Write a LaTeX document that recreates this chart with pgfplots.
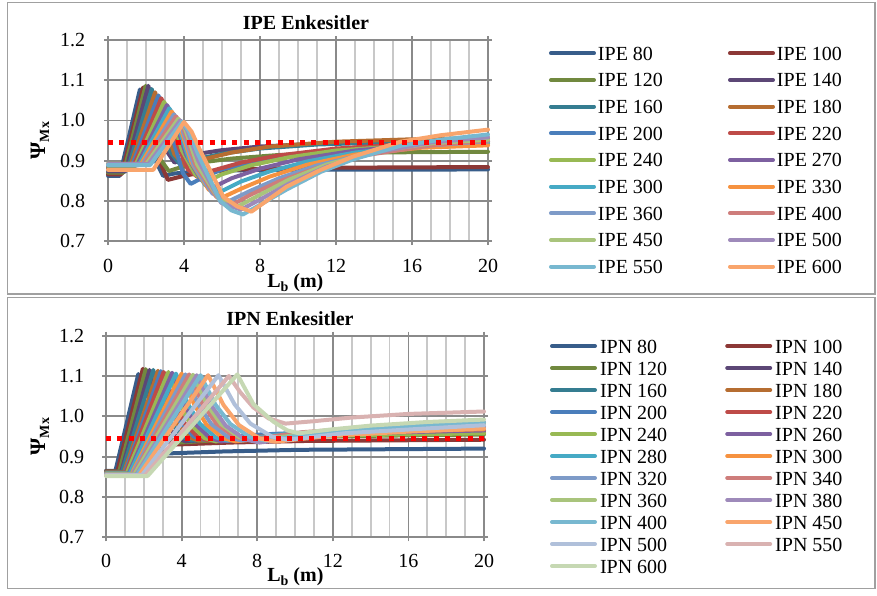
\documentclass[border=0pt]{standalone}
\usepackage{fontspec}
\setmainfont{Liberation Serif}
\usepackage{pgfplots}
\pgfplotsset{compat=1.18}
\definecolor{gmaj}{HTML}{8A8A8A}
\definecolor{gmin}{HTML}{C8C8C8}
\definecolor{frame}{HTML}{A0A0A0}
\definecolor{c1}{HTML}{385D8A}
\definecolor{c2}{HTML}{8C3836}
\definecolor{c3}{HTML}{71893F}
\definecolor{c4}{HTML}{5C4776}
\definecolor{c5}{HTML}{357D91}
\definecolor{c6}{HTML}{B66D31}
\definecolor{c7}{HTML}{4A7EBB}
\definecolor{c8}{HTML}{BE4B48}
\definecolor{c9}{HTML}{98B954}
\definecolor{c10}{HTML}{7D60A0}
\definecolor{c11}{HTML}{46AAC5}
\definecolor{c12}{HTML}{F69240}
\definecolor{c13}{HTML}{7E9BC8}
\definecolor{c14}{HTML}{CE7D7B}
\definecolor{c15}{HTML}{A9C47C}
\definecolor{c16}{HTML}{9E8ABA}
\definecolor{c17}{HTML}{78B8D0}
\definecolor{c18}{HTML}{F9A56C}
\definecolor{c19}{HTML}{B0C0DA}
\definecolor{c20}{HTML}{D9B2B1}
\definecolor{c21}{HTML}{C6D8B3}
\pgfplotsset{
  myax/.style={
    scale only axis, clip=false,
    xmin=0, xmax=20, ymin=0.7, ymax=1.2,
    xtick={0,4,8,12,16,20}, xticklabels={0,4,8,12,16,20},
    minor xtick={1,2,3,5,6,7,9,10,11,13,14,15,17,18,19},
    ytick={0.7,0.8,0.9,1.0,1.1,1.2}, yticklabels={0.7,0.8,0.9,1.0,1.1,1.2},
    grid=both,
    major grid style={draw=gmaj, line width=1.8pt},
    minor grid style={draw=gmin, line width=1.8pt},
    axis line style={draw=gmaj, line width=1.8pt},
    tick style={draw=gmaj, line width=1.8pt},
    tick align=outside, major tick length=4pt, minor tick length=0pt,
    font=\fontsize{20}{24}\selectfont,
    yticklabel style={anchor=east, inner sep=0pt},
    title style={font=\fontsize{20}{24}\selectfont\bfseries, anchor=center, inner sep=0pt},
    every axis plot/.append style={line width=4pt, line join=round, line cap=round, mark=none},
    legend columns=2,
    legend cell align=left,
    legend style={draw=none, fill=none, inner sep=0pt, outer sep=0pt, anchor=north west,
      nodes={inner sep=0pt, text height=14pt, text depth=0pt},
      font=\fontsize{20}{24}\selectfont},
    legend image code/.code={\path (0pt,0pt) -- (43pt,0pt); \draw[#1, line width=3.8pt, line cap=round] (1.9pt,0pt) -- (41.1pt,0pt);},
    ylabel={\bfseries{\fontsize{22}{22}\selectfont Ψ}\raisebox{-4pt}{\fontsize{14}{14}\selectfont Mx}},
    xlabel={\bfseries L\raisebox{-4pt}{\fontsize{14}{14}\selectfont b} (m)},
    redline/.style={forget plot, color=red, line width=5pt, line cap=butt, dash pattern=on 5pt off 6.3pt},
  }
}
\begin{document}
\begin{tikzpicture}[x=1pt,y=1pt]
\useasboundingbox (0,0) rectangle (877,595);
\draw[frame, line width=1.5pt] (7.5,301) rectangle (875,592.5);
\draw[frame, line width=1.5pt] (7.5,6.7) rectangle (875,297.7);
\begin{axis}[myax, at={(108pt,354pt)}, anchor=south west, width=380pt, height=201pt,
  title={IPE Enkesitler}, title style={at={(axis description cs:0.5,1)}, yshift=11pt, xshift=8pt},
  xticklabel style={anchor=base, yshift=-27pt, inner sep=0pt},
  yticklabel style={xshift=-18.7pt},
  ylabel style={at={(axis description cs:-0.179,0.5)}, anchor=center},
  xlabel style={at={(axis description cs:0.493,-0.229)}, anchor=base},
  legend style={at={(axis description cs:1.1605,0.9687)}, row sep=12.67pt,
    /tikz/every odd column/.append style={column sep=2pt},
    /tikz/every even column/.append style={column sep=65pt}},
  legend entries={IPE 80,IPE 100,IPE 120,IPE 140,IPE 160,IPE 180,IPE 200,IPE 220,IPE 240,IPE 270,IPE 300,IPE 330,IPE 360,IPE 400,IPE 450,IPE 500,IPE 550,IPE 600},
]
\addplot[c1] coordinates {(0,.862) (.62,.862) (1.68,1.077) (2.0,1.0) (2.5,.9) (2.9,.862) (3.5,.868) (5,.874) (8,.877) (20,.878)};
\addplot[c2] coordinates {(0,.866) (.72,.866) (1.85,1.082) (2.2,1.0) (2.7,.9) (3.15,.852) (4,.862) (5,.871) (7,.878) (10,.882) (20,.884)};
\addplot[c3] coordinates {(0,.87) (.82,.87) (1.98,1.086) (2.35,1.0) (2.8,.9) (3.2,.874) (4,.886) (5,.896) (6.5,.905) (9,.914) (13,.92) (20,.922)};
\addplot[c4] coordinates {(0,.873) (.92,.873) (2.12,1.086) (2.5,1.02) (3.0,.93) (3.5,.895) (4.5,.915) (6,.926) (8,.935) (11,.942) (15,.946) (20,.948)};
\addplot[c5] coordinates {(0,.876) (1.02,.876) (2.3,1.078) (2.7,1.01) (3.3,.92) (3.8,.89) (4.8,.905) (6,.917) (8,.93) (11,.94) (15,.946) (20,.95)};
\addplot[c6] coordinates {(0,.879) (1.12,.879) (2.48,1.07) (2.9,1.0) (3.5,.915) (4.05,.888) (5,.903) (6.5,.92) (8.5,.935) (12,.947) (16,.953) (20,.956)};
\addplot[c7] coordinates {(0,.882) (1.22,.882) (2.65,1.062) (3.0,1.03) (3.5,.94) (3.95,.868) (4.35,.842) (5,.858) (6,.878) (8,.9) (11,.92) (15,.935) (20,.942)};
\addplot[c8] coordinates {(0,.884) (1.32,.884) (2.8,1.055) (3.15,1.025) (3.7,.935) (4.2,.878) (4.7,.86) (5.5,.875) (7,.895) (9,.913) (12,.93) (16,.942) (20,.948)};
\addplot[c9] coordinates {(0,.886) (1.42,.886) (2.95,1.046) (3.3,1.018) (3.9,.925) (4.6,.865) (5.2,.848) (6,.866) (7.5,.888) (9.5,.908) (12,.925) (16,.938) (20,.943)};
\addplot[c10] coordinates {(0,.888) (1.52,.888) (3.1,1.038) (3.45,1.012) (4.1,.915) (4.9,.852) (5.6,.835) (6.5,.856) (8,.88) (10,.903) (13,.925) (16.5,.94) (20,.948)};
\addplot[c11] coordinates {(0,.889) (1.62,.889) (3.22,1.03) (3.57,1.005) (4.25,.905) (5.1,.84) (5.9,.822) (7,.848) (8.5,.873) (10.5,.898) (13,.92) (16.5,.937) (20,.945)};
\addplot[c12] coordinates {(0,.89) (1.72,.89) (3.35,1.022) (3.7,.998) (4.4,.895) (5.3,.828) (6.1,.81) (7,.83) (8.5,.86) (10.5,.89) (13,.915) (16.5,.932) (20,.938)};
\addplot[c13] coordinates {(0,.891) (1.82,.891) (3.47,1.015) (3.82,.99) (4.5,.89) (5.5,.818) (6.4,.8) (7.5,.825) (9,.856) (11,.888) (13.5,.916) (17,.938) (20,.948)};
\addplot[c14] coordinates {(0,.892) (1.92,.892) (3.58,1.01) (3.93,.986) (4.6,.89) (5.7,.81) (6.6,.792) (7.5,.815) (9,.848) (11,.882) (13.5,.913) (17,.938) (20,.95)};
\addplot[c15] coordinates {(0,.892) (2.02,.892) (3.7,1.004) (4.05,.98) (4.7,.89) (5.85,.803) (6.8,.785) (8,.815) (9.5,.852) (11.5,.89) (14,.922) (17,.943) (20,.952)};
\addplot[c16] coordinates {(0,.891) (2.12,.891) (3.8,1.0) (4.15,.977) (4.75,.9) (5.95,.795) (7.0,.778) (8,.803) (9.5,.842) (11.5,.885) (14,.92) (17,.945) (20,.958)};
\addplot[c17] coordinates {(0,.889) (2.22,.889) (3.9,.997) (4.25,.974) (4.75,.915) (5.9,.8) (6.5,.776) (7.1,.766) (8,.79) (9.4,.828) (11.2,.872) (12.9,.903) (15.4,.937) (17.5,.952) (20,.965)};
\addplot[c18] coordinates {(0,.877) (2.38,.877) (4.0,.996) (4.4,.972) (4.84,.926) (6.07,.81) (6.8,.786) (7.55,.773) (8.5,.805) (9.4,.835) (11.2,.877) (12.9,.91) (15.4,.947) (17.5,.963) (20,.977)};
\addplot[redline] coordinates {(0,0.9445) (20,0.9445)};
\end{axis}
\begin{axis}[myax, at={(106pt,57.7pt)}, anchor=south west, width=378pt, height=201.6pt,
  title={IPN Enkesitler}, title style={at={(axis description cs:0.5,1)}, yshift=11pt, xshift=-5pt},
  xticklabel style={anchor=base, yshift=-26pt, inner sep=0pt},
  yticklabel style={xshift=-17.7pt},
  ylabel style={at={(axis description cs:-0.175,0.5)}, anchor=center},
  xlabel style={at={(axis description cs:0.501,-0.220)}, anchor=base},
  legend style={at={(axis description cs:1.1746,0.9836)}, row sep=8pt,
    /tikz/every odd column/.append style={column sep=3pt},
    /tikz/every even column/.append style={column sep=58pt}},
  legend entries={IPN 80,IPN 100,IPN 120,IPN 140,IPN 160,IPN 180,IPN 200,IPN 220,IPN 240,IPN 260,IPN 280,IPN 300,IPN 320,IPN 340,IPN 360,IPN 380,IPN 400,IPN 450,IPN 500,IPN 550,IPN 600},
]
\addplot[c1] coordinates {(0,.865) (0.5,.865) (1.71,1.105) (2.07,1.016) (2.43,.957) (2.91,.916) (3.27,.908) (6.27,.913) (10.27,.917) (20,.92)};
\addplot[c2] coordinates {(0,.864) (0.6,.864) (1.95,1.118) (2.34,1.033) (2.72,.977) (3.24,.938) (3.63,.93) (6.63,.935) (10.63,.939) (20,.942)};
\addplot[c3] coordinates {(0,.863) (0.7,.863) (2.1,1.117) (2.51,1.035) (2.93,.981) (3.48,.943) (3.89,.935) (6.89,.944) (10.89,.95) (20,.955)};
\addplot[c4] coordinates {(0,.862) (0.8,.862) (2.3,1.115) (2.74,1.035) (3.18,.982) (3.77,.946) (4.21,.938) (7.21,.948) (11.21,.955) (20,.96)};
\addplot[c5] coordinates {(0,.862) (0.85,.862) (2.5,1.115) (2.97,1.036) (3.44,.984) (4.06,.948) (4.53,.94) (7.53,.951) (11.53,.959) (20,.965)};
\addplot[c6] coordinates {(0,.861) (0.95,.861) (2.75,1.113) (3.25,1.035) (3.74,.983) (4.4,.948) (4.9,.94) (7.9,.95) (11.9,.957) (20,.962)};
\addplot[c7] coordinates {(0,.86) (1.0,.86) (2.9,1.112) (3.42,1.036) (3.94,.985) (4.64,.95) (5.16,.942) (8.16,.955) (12.16,.963) (20,.97)};
\addplot[c8] coordinates {(0,.86) (1.05,.86) (3.05,1.11) (3.6,1.034) (4.15,.983) (4.88,.948) (5.43,.94) (8.43,.951) (12.43,.959) (20,.965)};
\addplot[c9] coordinates {(0,.859) (1.1,.859) (3.3,1.11) (3.88,1.033) (4.45,.981) (5.22,.946) (5.8,.938) (8.8,.947) (12.8,.953) (20,.958)};
\addplot[c10] coordinates {(0,.858) (1.2,.858) (3.5,1.108) (4.1,1.032) (4.71,.981) (5.51,.946) (6.11,.938) (9.11,.95) (13.11,.958) (20,.965)};
\addplot[c11] coordinates {(0,.858) (1.25,.858) (3.7,1.106) (4.33,1.031) (4.96,.982) (5.8,.948) (6.43,.94) (9.43,.956) (13.43,.966) (20,.975)};
\addplot[c12] coordinates {(0,.857) (1.35,.857) (4.0,1.106) (4.66,1.03) (5.31,.98) (6.19,.946) (6.85,.938) (9.85,.952) (13.85,.961) (20,.968)};
\addplot[c13] coordinates {(0,.857) (1.4,.857) (4.2,1.104) (4.88,1.03) (5.57,.981) (6.48,.948) (7.16,.94) (10.16,.954) (14.16,.964) (20,.972)};
\addplot[c14] coordinates {(0,.856) (1.45,.856) (4.4,1.104) (5.11,1.031) (5.82,.983) (6.77,.95) (7.48,.942) (10.48,.961) (14.48,.974) (20,.985)};
\addplot[c15] coordinates {(0,.856) (1.5,.856) (4.6,1.103) (5.34,1.03) (6.08,.981) (7.06,.948) (7.8,.94) (10.8,.958) (14.8,.97) (20,.98)};
\addplot[c16] coordinates {(0,.855) (1.6,.855) (4.8,1.102) (5.57,1.027) (6.33,.977) (7.35,.943) (8.12,.935) (11.12,.953) (15.12,.965) (20,.975)};
\addplot[c17] coordinates {(0,.855) (1.65,.855) (5.0,1.102) (5.79,1.029) (6.58,.981) (7.64,.948) (8.43,.94) (11.43,.96) (15.43,.974) (20,.985)};
\addplot[c18] coordinates {(0,.854) (1.75,.854) (5.4,1.102) (6.22,1.028) (7.04,.978) (8.13,.945) (8.95,.937) (11.95,.952) (15.95,.962) (20,.97)};
\addplot[c19] coordinates {(0,.854) (1.9,.854) (5.95,1.102) (6.8,1.03) (7.64,.982) (8.77,.95) (9.62,.942) (12.62,.958) (16.62,.969) (20,.978)};
\addplot[c20] coordinates {(0,.853) (2.05,.853) (6.5,1.1) (7.1,1.06) (7.8,1.022) (8.6,.995) (9.5,.982) (11,.988) (13,.997) (16,1.006) (20,1.012)};
\addplot[c21] coordinates {(0,.852) (2.2,.852) (6.95,1.104) (7.8,1.03) (8.85,.987) (9.6,.965) (10.2,.958) (12,.968) (14,.977) (17,.986) (20,.992)};
\addplot[redline] coordinates {(0,0.9445) (20,0.9445)};
\end{axis}
\end{tikzpicture}
\end{document}
